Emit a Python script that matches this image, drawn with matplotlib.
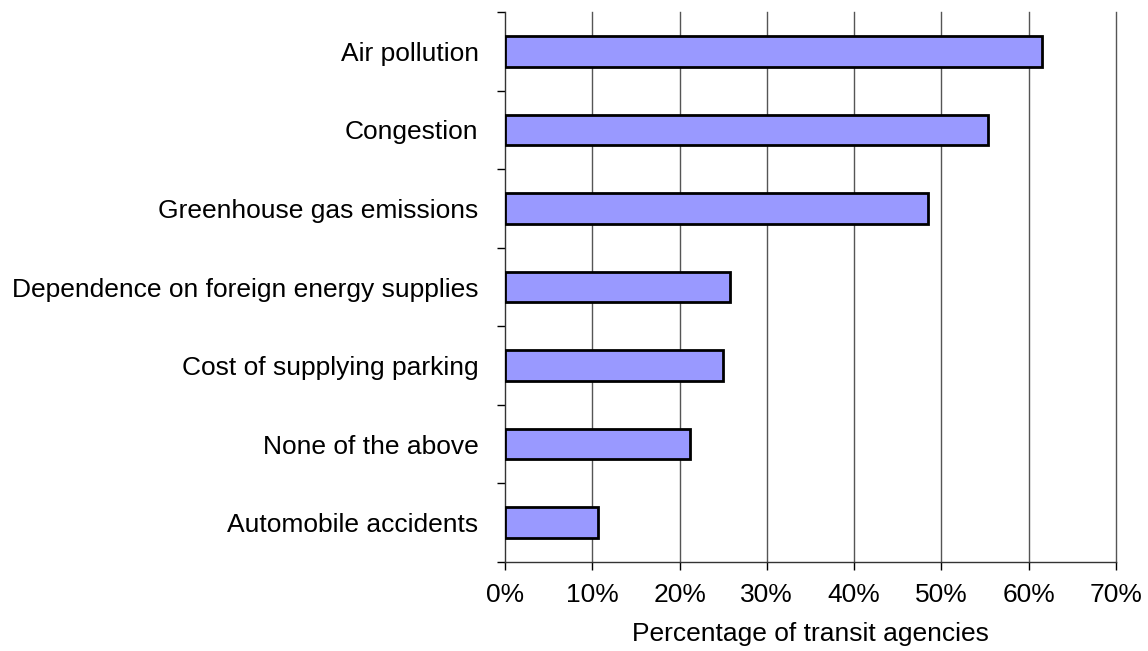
import numpy as np
import matplotlib.pyplot as plt
from matplotlib.ticker import FuncFormatter, FixedLocator

categories = ['Air pollution', 'Congestion', 'Greenhouse gas emissions',
              'Dependence on foreign energy supplies', 'Cost of supplying parking',
              'None of the above', 'Automobile accidents']
values = [61.5, 55.3, 48.5, 25.8, 25.0, 21.2, 10.6]
x_ticks = [0, 10, 20, 30, 40, 50, 60, 70]

plt.rcParams['font.family'] = ['Liberation Sans', 'DejaVu Sans']
fs = 19

fig = plt.figure(figsize=(11.48, 6.51), dpi=100)
ax = fig.add_axes([505 / 1148, 1 - 562 / 651, (1116 - 505) / 1148, (562 - 12) / 651])

n = len(categories)
pos = np.arange(n)[::-1]
ax.barh(pos, values, height=0.39, color='#9999ff', edgecolor='black', linewidth=2, zorder=3)

ax.set_xlim(x_ticks[0], x_ticks[-1])
ax.set_ylim(-0.5, n - 0.5)
ax.set_xticks(x_ticks)
ax.xaxis.set_major_formatter(FuncFormatter(lambda v, p: f'{v:.0f}%'))
for xv in x_ticks[1:]:
    ax.axvline(xv, color='#555555', linewidth=1, zorder=0, clip_on=False)

# category labels on minor ticks, boundary marks on major ticks
ax.yaxis.set_major_locator(FixedLocator(np.arange(-0.5, n, 1.0)))
ax.yaxis.set_major_formatter(FuncFormatter(lambda v, p: ''))
ax.yaxis.set_minor_locator(FixedLocator(pos))
ax.set_yticklabels(categories, minor=True)
ax.tick_params(axis='y', which='major', length=6, width=1, direction='out')
ax.tick_params(axis='y', which='minor', length=0, pad=19, labelsize=fs)
ax.tick_params(axis='x', length=6, width=1, direction='out', pad=9, labelsize=fs)

for s in ['top', 'right']:
    ax.spines[s].set_visible(False)
for s in ['left', 'bottom']:
    ax.spines[s].set_color('#333333')
    ax.spines[s].set_linewidth(1)

ax.set_xlabel('Percentage of transit agencies', fontsize=fs, labelpad=11)

fig.savefig('out.png', dpi=100)
